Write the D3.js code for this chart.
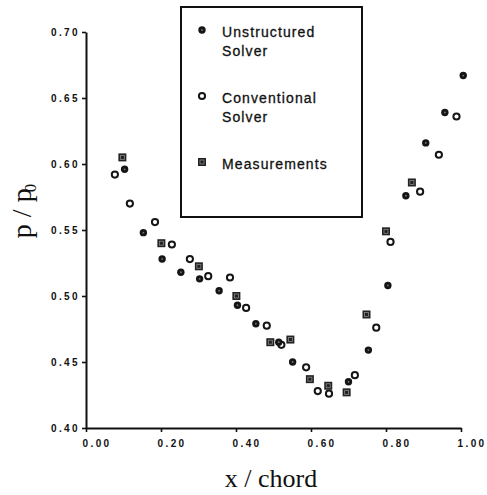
<!DOCTYPE html>
<html>
<head>
<meta charset="utf-8">
<script src="https://cdn.jsdelivr.net/npm/d3@7"></script>
<style>
  html, body { margin: 0; padding: 0; background: #fff; }
  svg { display: block; }
</style>
</head>
<body>
<svg id="chart" width="487" height="495"></svg>
<script>
// Pressure ratio along the chord: two solvers against measurements
const xTicks = [0.00, 0.20, 0.40, 0.60, 0.80, 1.00];
const yTicks = [0.40, 0.45, 0.50, 0.55, 0.60, 0.65, 0.70];

const unstructured = [
  [0.103, 0.596], [0.153, 0.548], [0.203, 0.528], [0.253, 0.518],
  [0.303, 0.513], [0.355, 0.504], [0.404, 0.493], [0.453, 0.479],
  [0.514, 0.465], [0.551, 0.450], [0.700, 0.435], [0.753, 0.459],
  [0.805, 0.508], [0.853, 0.576], [0.906, 0.616], [0.957, 0.639],
  [1.006, 0.667]
];
const conventional = [
  [0.077, 0.592], [0.117, 0.570], [0.184, 0.556], [0.229, 0.539],
  [0.277, 0.528], [0.326, 0.515], [0.384, 0.514], [0.427, 0.491],
  [0.482, 0.4775], [0.521, 0.463], [0.587, 0.446], [0.618, 0.428],
  [0.648, 0.426], [0.717, 0.440], [0.774, 0.476], [0.812, 0.541],
  [0.891, 0.579], [0.941, 0.607], [0.988, 0.636]
];
const measurements = [
  [0.097, 0.605], [0.201, 0.540], [0.301, 0.5225], [0.401, 0.500],
  [0.4915, 0.465], [0.545, 0.467], [0.597, 0.437], [0.646, 0.432],
  [0.695, 0.427], [0.748, 0.486], [0.800, 0.549], [0.869, 0.586]
];
const legendItems = [
  { key: "unstructured", lines: ["Unstructured", "Solver"] },
  { key: "conventional", lines: ["Conventional", "Solver"] },
  { key: "measurements", lines: ["Measurements"] }
];

const svg = d3.select("#chart");
const x = d3.scaleLinear().domain([0, 1]).range([86, 461]);
const y = d3.scaleLinear().domain([0.40, 0.70]).range([428, 32]);
const fmt = d3.format(".2f");

// axes
const xAxis = svg.append("g")
  .attr("transform", `translate(0,${y(0.40)})`)
  .call(d3.axisBottom(x).tickValues(xTicks).tickFormat(fmt).tickSize(4).tickSizeOuter(0).tickPadding(8));
const yAxis = svg.append("g")
  .attr("transform", `translate(${x(0)},0)`)
  .call(d3.axisLeft(y).tickValues(yTicks).tickFormat(fmt).tickSize(4).tickSizeOuter(0).tickPadding(2));

[xAxis, yAxis].forEach(g => {
  g.select(".domain").attr("stroke", "#111").attr("stroke-width", 2);
  g.selectAll(".tick line").attr("stroke", "#111").attr("stroke-width", 1.6);
  g.selectAll(".tick text")
    .attr("fill", "#111")
    .style("font-family", "'Liberation Sans', Arial, sans-serif")
    .style("font-size", "10px")
    .style("font-weight", "bold")
    .style("letter-spacing", "2.4px");
});
xAxis.selectAll(".tick text").attr("text-anchor", "start").attr("dx", -4);

// markers
function drawFilled(sel, cx, cy) {
  sel.append("circle").attr("cx", cx).attr("cy", cy).attr("r", 3.7).attr("fill", "#151515");
  sel.append("circle").attr("cx", cx).attr("cy", cy).attr("r", 0.9).attr("fill", "#777");
}
function drawOpen(sel, cx, cy) {
  sel.append("circle").attr("cx", cx).attr("cy", cy).attr("r", 3.1)
    .attr("fill", "#fff").attr("stroke", "#151515").attr("stroke-width", 2);
}
function drawSquare(sel, cx, cy) {
  sel.append("rect").attr("x", cx - 4).attr("y", cy - 4).attr("width", 8).attr("height", 8).attr("fill", "#222");
  sel.append("rect").attr("x", cx - 2).attr("y", cy - 2).attr("width", 4).attr("height", 4)
    .attr("fill", "none").attr("stroke", "#888").attr("stroke-width", 0.8);
}
const drawers = { unstructured: drawFilled, conventional: drawOpen, measurements: drawSquare };

const pts = svg.append("g");
conventional.forEach(d => drawOpen(pts, x(d[0]), y(d[1])));
unstructured.forEach(d => drawFilled(pts, x(d[0]), y(d[1])));
measurements.forEach(d => drawSquare(pts, x(d[0]), y(d[1])));

// legend
const lg = svg.append("g");
lg.append("rect").attr("x", 181).attr("y", 7).attr("width", 181).attr("height", 210)
  .attr("fill", "none").attr("stroke", "#111").attr("stroke-width", 2);
const rowTop = [30, 96, 162];
legendItems.forEach((item, i) => {
  drawers[item.key](lg, 202, rowTop[i]);
  item.lines.forEach((t, j) => {
    lg.append("text")
      .attr("x", 222).attr("y", rowTop[i] + 7 + j * 18.5)
      .attr("fill", "#111")
      .attr("stroke", "#111").attr("stroke-width", 0.3)
      .style("font-family", "'Liberation Sans', Arial, sans-serif")
      .style("font-size", "14px")
      .style("letter-spacing", "1.1px")
      .text(t);
  });
});

// axis titles
svg.append("text")
  .attr("x", 271).attr("y", 487)
  .attr("text-anchor", "middle")
  .attr("fill", "#111")
  .style("font-family", "'Liberation Serif', 'Times New Roman', serif")
  .style("font-size", "26px")
  .text("x / chord");

const yt = svg.append("text")
  .attr("transform", "translate(31,211) rotate(-90)")
  .attr("text-anchor", "middle")
  .attr("fill", "#111")
  .style("font-family", "'Liberation Serif', 'Times New Roman', serif")
  .style("font-size", "28px");
yt.append("tspan").text("p / p");
yt.append("tspan").attr("dy", 5).attr("dx", -4).style("font-size", "17px").text("0");
</script>
</body>
</html>
